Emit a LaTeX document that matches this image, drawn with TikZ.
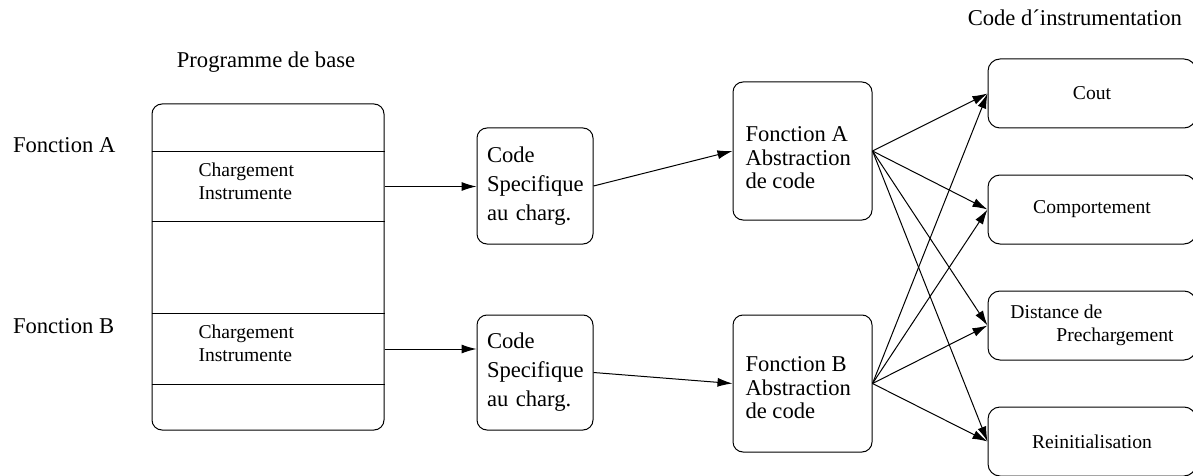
\documentclass[tikz,border=0pt]{standalone}
\usepackage{fontspec}
\setmainfont{Liberation Serif}
\usetikzlibrary{arrows.meta}
\begin{document}
\begin{tikzpicture}[x=0.5pt,y=-0.5pt,line width=0.5pt,
  big/.style={font=\fontsize{11.3}{11.75}\selectfont},
  small/.style={font=\fontsize{9.8}{11.5}\selectfont},
  box/.style={draw,rounded corners=5pt,inner sep=0pt},
  rowstrip/.style={inner sep=0pt,minimum width=116pt},
  arr/.style={-{Latex[length=7.5pt,width=4.5pt]}}]
\useasboundingbox (0,0) rectangle (1193,476);

% titles and side labels
\node[big,anchor=center] (progtitle) at (266,62) {Programme de base};
\node[big,anchor=east] (instrtitle) at (1189,18) {Code d´instrumentation};
\node[big,anchor=west,inner sep=0pt] (labA) at (12.5,145) {Fonction A};
\node[big,anchor=west,inner sep=0pt] (labB) at (12.5,326) {Fonction B};

% base program with its two instrumented rows
\node[box,minimum width=116pt,minimum height=163pt] (prog) at (268,267) {};
\node[rowstrip,minimum height=34.5pt] (rowA) at (268,186.5) {};
\node[rowstrip,minimum height=35pt] (rowB) at (268,349) {};
\draw (rowA.north west) -- (rowA.north east)
      (rowA.south west) -- (rowA.south east)
      (rowB.north west) -- (rowB.north east)
      (rowB.south west) -- (rowB.south east);
\node[small,align=left,anchor=west,inner sep=0pt] (txtA) at (198,181.5) {Chargement\\Instrumente};
\node[small,align=left,anchor=west,inner sep=0pt] (txtB) at (198,343) {Chargement\\Instrumente};

% load-specific code
\node[box,font=\fontsize{11.3}{14.5}\selectfont,align=left,text width=48pt,inner xsep=5pt,
      minimum height=58pt] (codeA) at (535,186) {Code\\Specifique\\au charg.};
\node[box,font=\fontsize{11.3}{14.5}\selectfont,align=left,text width=48pt,inner xsep=5pt,
      minimum height=57.5pt] (codeB) at (535,372.5) {Code\\Specifique\\au charg.};

% function abstractions
\node[box,minimum width=69.5pt,minimum height=69pt] (fA) at (802.5,151) {};
\node[box,minimum width=69.5pt,minimum height=68.5pt] (fB) at (802.5,383.5) {};
\node[big,align=left,anchor=west,inner sep=0pt] (fAtext) at (745,158) {Fonction A\\Abstraction\\de code};
\node[big,align=left,anchor=west,inner sep=0pt] (fBtext) at (745,388) {Fonction B\\Abstraction\\de code};

% instrumentation code
\tikzset{instr/.style={box,small,rounded corners=6pt,minimum width=104pt,minimum height=34.5pt}}
\node[instr] (cout) at (1092,93.5) {Cout};
\node[instr] (comp) at (1092,209.5) {Comportement};
\node[instr,align=left] (dist) at (1092,325.5) {Distance de\\\hspace*{23pt}Prechargement};
\node[instr] (rein) at (1092,441.5) {Reinitialisation};

% connectors
\draw[arr] (rowA.east) -- (rowA.east -| codeA.west);
\draw[arr] (rowB.east) -- (rowB.east -| codeB.west);
\draw[arr] (codeA.east) -- (fA.west);
\draw[arr] (codeB.east) -- (fB.west);
\foreach \s in {fA,fB}
  \foreach \t in {cout,comp,dist,rein}
    \draw[arr] (\s.east) -- (\t.west);
\end{tikzpicture}
\end{document}
